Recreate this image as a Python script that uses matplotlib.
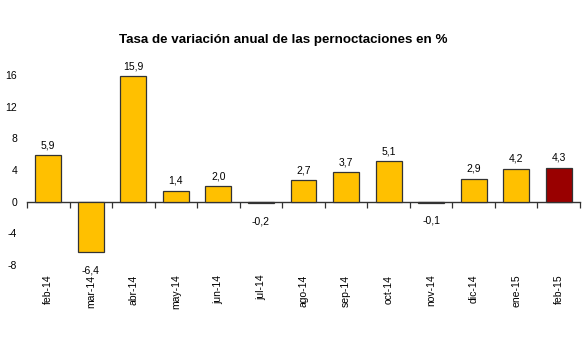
import matplotlib
matplotlib.use("Agg")
import matplotlib.pyplot as plt
import numpy as np

categories = ["feb-14", "mar-14", "abr-14", "may-14", "jun-14", "jul-14", "ago-14",
              "sep-14", "oct-14", "nov-14", "dic-14", "ene-15", "feb-15"]
values = [5.9, -6.4, 15.9, 1.4, 2.0, -0.2, 2.7, 3.7, 5.1, -0.1, 2.9, 4.2, 4.3]
value_labels = ["5,9", "-6,4", "15,9", "1,4", "2,0", "-0,2", "2,7", "3,7", "5,1",
                "-0,1", "2,9", "4,2", "4,3"]
yticks = [-8, -4, 0, 4, 8, 12, 16]
title = "Tasa de variación anual de las pernoctaciones en %"

plt.rcParams['font.family'] = ['Liberation Sans', 'DejaVu Sans']

fig = plt.figure(figsize=(5.85, 3.51), dpi=100)
bottom_px, top_px = 265, 51.5
ax = fig.add_axes([27/585, 1 - bottom_px/351, (580 - 27)/585, (bottom_px - top_px)/351])

x = np.arange(len(categories))
colors = ["#FFC000"] * (len(categories) - 1) + ["#990000"]
ax.bar(x, values, width=0.61, color=colors, edgecolor="#333333", linewidth=0.9, zorder=2)

ax.set_xlim(-0.5, len(categories) - 0.5)
ax.set_ylim(-8, 19)
ax.set_yticks(yticks)
ax.set_yticklabels([str(t) for t in yticks])
ax.tick_params(axis='y', length=0, pad=7, labelsize=7.5)
ax.set_xticks(x)
ax.set_xticklabels(categories, rotation=90, fontsize=7.5)
ax.tick_params(axis='x', length=0, pad=7)
for s in ax.spines.values():
    s.set_visible(False)

# zero axis line with ticks between categories
sec = ax.secondary_xaxis(0, transform=ax.transData)
sec.set_xticks(np.arange(len(categories) + 1) - 0.5)
sec.set_xticklabels([])
sec.tick_params(axis='x', length=4, width=0.9, color="#333333", direction='out')
sec.spines['bottom'].set_color("#333333")
sec.spines['bottom'].set_linewidth(1.0)

for xi, v, lab in zip(x, values, value_labels):
    if v >= 0:
        ax.annotate(lab, (xi, v), xytext=(0, 3.5), textcoords='offset points',
                    ha='center', va='bottom', fontsize=7.5)
    else:
        ax.annotate(lab, (xi, v), xytext=(0, -9.5), textcoords='offset points',
                    ha='center', va='top', fontsize=7.5)

fig.text(283.5/585, 1 - 40/351, title, ha='center', va='center', fontsize=9.6, fontweight='bold')

fig.savefig("out.png", dpi=100)
